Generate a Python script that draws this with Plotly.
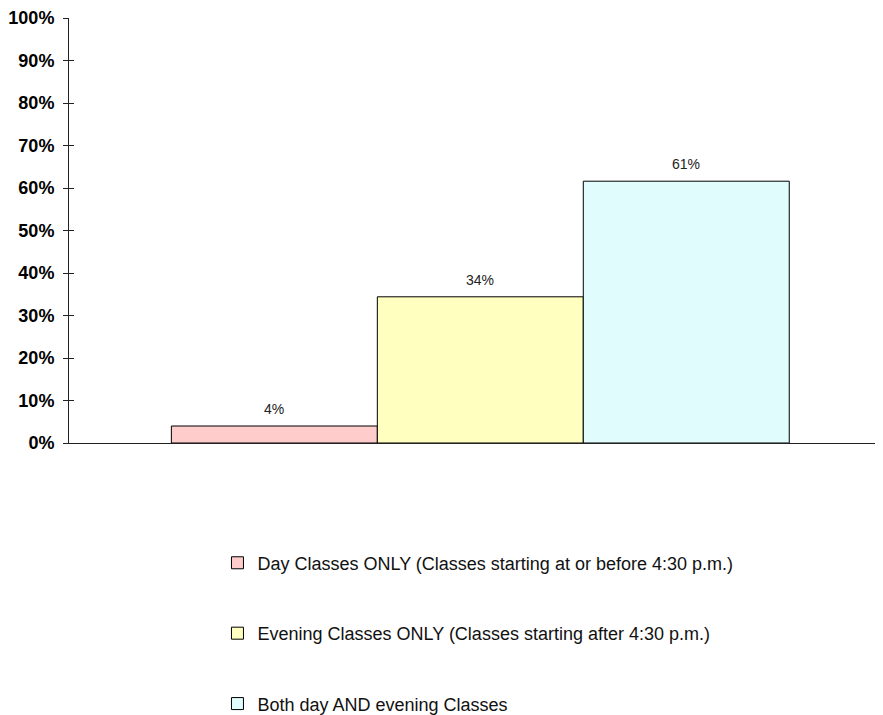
import plotly.graph_objs as go

series = [
    'Day Classes ONLY (Classes starting at or before 4:30 p.m.)',
    'Evening Classes ONLY (Classes starting after 4:30 p.m.)',
    'Both day AND evening Classes',
]
values = [4.0, 34.4, 61.6]
labels = ['4%', '34%', '61%']
colors = ['#FFCCCC', '#FFFFC0', '#E0FCFC']
y_ticks = list(range(0, 101, 10))

fig = go.Figure()
for i, (name, val, col) in enumerate(zip(series, values, colors)):
    fig.add_trace(go.Bar(
        x=[i], y=[val], name=name, width=1,
        marker=dict(color=col, line=dict(color='#000000', width=1)),
        legendgroup=str(i), hoverinfo='skip',
    ))
    fig.add_annotation(x=i, y=val, text=labels[i], showarrow=False,
                       yanchor='bottom', yshift=7,
                       font=dict(size=14, color='#222222'))

# invisible trace so a second axis can draw the inner half of the ticks
fig.add_trace(go.Scatter(x=[0], y=[0], yaxis='y2', mode='markers',
                         marker=dict(opacity=0), showlegend=False, hoverinfo='skip'))

font = 'Liberation Sans, Arial, sans-serif'
fig.update_layout(
    barmode='overlay',
    template='plotly_white',
    width=883, height=715,
    margin=dict(l=58, r=0, t=9, b=267),
    plot_bgcolor='white', paper_bgcolor='white',
    font=dict(family=font, color='#000000'),
    xaxis=dict(range=[-0.997, 2.994], showticklabels=False, ticks='', showgrid=False,
               zeroline=False, showline=True, linecolor='#222222', linewidth=1),
    yaxis=dict(range=[0, 100], tickvals=y_ticks, ticktext=[f'{v}%' for v in y_ticks],
               ticks='outside', ticklen=5, tickcolor='#222222', showgrid=False,
               zeroline=False, showline=True, linecolor='#222222', linewidth=1,
               tickfont=dict(size=18, family=font, weight='bold'), ticklabelstandoff=5,
               ticklabeloverflow='allow'),
    yaxis2=dict(range=[0, 100], overlaying='y', side='left', tickvals=y_ticks,
                showticklabels=False, ticks='inside', ticklen=5, tickcolor='#222222',
                showgrid=False, zeroline=False, showline=False),
    legend=dict(x=0.1806, xanchor='left', y=-0.239, yanchor='top', orientation='v',
                traceorder='grouped', tracegroupgap=44,
                font=dict(size=18, family=font, color='#111111')),
    showlegend=True,
)

fig.write_html('out.html')
